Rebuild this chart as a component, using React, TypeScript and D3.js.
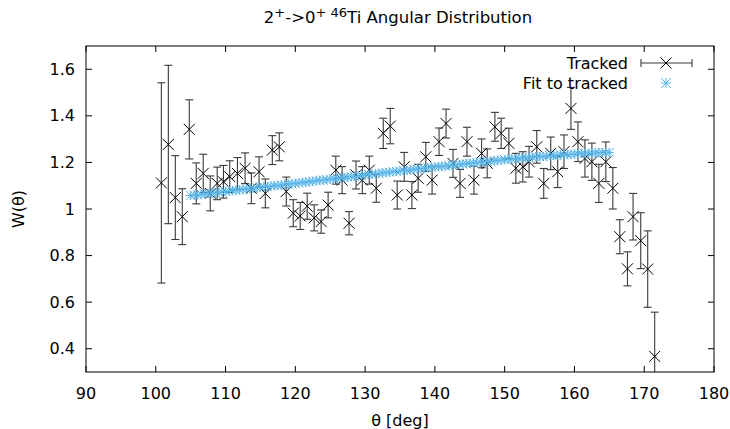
import React from 'react';
import * as d3 from 'd3';

// tracked data (angle in deg, W, error)
const trackedAngles = [
  100.8, 101.8, 102.8, 103.8, 104.8, 105.8, 106.8, 107.8, 108.8, 109.7,
  110.6, 111.7, 112.8, 113.7, 114.8, 115.7, 116.7, 117.7, 118.7, 119.7,
  120.7, 121.7, 122.7, 123.7, 124.7, 125.8, 126.7, 127.7, 128.7, 129.6,
  130.6, 131.6, 132.6, 133.6, 134.6, 135.6, 136.7, 137.6, 138.7, 139.6,
  140.6, 141.6, 142.6, 143.6, 144.6, 145.6, 146.7, 147.5, 148.6, 149.5,
  150.6, 151.6, 152.6, 153.5, 154.6, 155.6, 156.6, 157.6, 158.5, 159.5,
  160.5, 161.5, 162.5, 163.5, 164.5, 165.5, 166.5, 167.6, 168.4, 169.5,
  170.5, 171.5,
];
const trackedW = [
  1.112, 1.277, 1.049, 0.967, 1.342, 1.110, 1.153, 1.067, 1.110, 1.117,
  1.139, 1.153, 1.175, 1.089, 1.160, 1.067, 1.253, 1.267, 1.075, 0.982,
  0.970, 1.012, 0.962, 0.946, 1.017, 1.167, 1.124, 0.939, 1.146, 1.124,
  1.167, 1.089, 1.325, 1.356, 1.060, 1.181, 1.060, 1.132, 1.224, 1.124,
  1.289, 1.367, 1.196, 1.110, 1.289, 1.124, 1.239, 1.196, 1.353, 1.325,
  1.282, 1.175, 1.181, 1.203, 1.267, 1.110, 1.239, 1.160, 1.246, 1.432,
  1.289, 1.217, 1.203, 1.110, 1.203, 1.089, 0.881, 0.743, 0.967, 0.864,
  0.742, 0.367,
];
const trackedErr = [
  0.43, 0.34, 0.18, 0.12, 0.127, 0.088, 0.082, 0.075, 0.07, 0.07,
  0.068, 0.068, 0.066, 0.066, 0.064, 0.062, 0.062, 0.06, 0.062, 0.058,
  0.058, 0.056, 0.056, 0.05, 0.055, 0.06, 0.058, 0.05, 0.06, 0.058,
  0.06, 0.06, 0.065, 0.076, 0.06, 0.062, 0.058, 0.06, 0.062, 0.06,
  0.059, 0.062, 0.06, 0.06, 0.062, 0.06, 0.062, 0.062, 0.062, 0.065,
  0.065, 0.064, 0.065, 0.066, 0.07, 0.064, 0.07, 0.068, 0.072, 0.09,
  0.085, 0.08, 0.08, 0.082, 0.085, 0.089, 0.073, 0.073, 0.1, 0.12,
  0.164, 0.19,
];

// fit to tracked
const fitAngles = [
  105, 105.5, 106, 106.5, 107, 107.5, 108, 108.5, 109, 109.5,
  110, 110.5, 111, 111.5, 112, 112.5, 113, 113.5, 114, 114.5,
  115, 115.5, 116, 116.5, 117, 117.5, 118, 118.5, 119, 119.5,
  120, 120.5, 121, 121.5, 122, 122.5, 123, 123.5, 124, 124.5,
  125, 125.5, 126, 126.5, 127, 127.5, 128, 128.5, 129, 129.5,
  130, 130.5, 131, 131.5, 132, 132.5, 133, 133.5, 134, 134.5,
  135, 135.5, 136, 136.5, 137, 137.5, 138, 138.5, 139, 139.5,
  140, 140.5, 141, 141.5, 142, 142.5, 143, 143.5, 144, 144.5,
  145, 145.5, 146, 146.5, 147, 147.5, 148, 148.5, 149, 149.5,
  150, 150.5, 151, 151.5, 152, 152.5, 153, 153.5, 154, 154.5,
  155, 155.5, 156, 156.5, 157, 157.5, 158, 158.5, 159, 159.5,
  160, 160.5, 161, 161.5, 162, 162.5, 163, 163.5, 164, 164.5,
  165,
];
const fitW = [
  1.058, 1.060, 1.061, 1.063, 1.065, 1.067, 1.068, 1.070, 1.072, 1.073,
  1.075, 1.077, 1.079, 1.080, 1.082, 1.084, 1.086, 1.088, 1.089, 1.091,
  1.093, 1.095, 1.096, 1.098, 1.100, 1.101, 1.103, 1.105, 1.107, 1.108,
  1.110, 1.112, 1.114, 1.115, 1.117, 1.119, 1.121, 1.123, 1.124, 1.126,
  1.128, 1.130, 1.132, 1.133, 1.135, 1.137, 1.139, 1.140, 1.142, 1.144,
  1.146, 1.148, 1.149, 1.151, 1.153, 1.155, 1.156, 1.158, 1.160, 1.161,
  1.163, 1.165, 1.166, 1.168, 1.170, 1.172, 1.173, 1.175, 1.177, 1.178,
  1.180, 1.182, 1.183, 1.185, 1.186, 1.188, 1.190, 1.191, 1.193, 1.194,
  1.196, 1.198, 1.199, 1.201, 1.202, 1.204, 1.205, 1.207, 1.209, 1.210,
  1.212, 1.213, 1.215, 1.216, 1.217, 1.219, 1.220, 1.221, 1.223, 1.224,
  1.225, 1.226, 1.227, 1.229, 1.230, 1.231, 1.232, 1.233, 1.234, 1.235,
  1.236, 1.237, 1.238, 1.238, 1.239, 1.240, 1.241, 1.241, 1.242, 1.242,
  1.243,
];

const xTicks = [90, 100, 110, 120, 130, 140, 150, 160, 170, 180];
const yTicks = [0.4, 0.6, 0.8, 1, 1.2, 1.4, 1.6];

const BLUE = '#56b4e9';
const FONT = '"DejaVu Sans", sans-serif';

const Cross = ({ cx, cy, r, stroke }) => (
  <path d={`M${cx - r},${cy - r}L${cx + r},${cy + r}M${cx - r},${cy + r}L${cx + r},${cy - r}`} stroke={stroke} strokeWidth={1} fill="none" />
);

const Star = ({ cx, cy, r, stroke }) => (
  <path
    d={`M${cx - r},${cy - r}L${cx + r},${cy + r}M${cx - r},${cy + r}L${cx + r},${cy - r}M${cx - r},${cy}L${cx + r},${cy}M${cx},${cy - r}L${cx},${cy + r}`}
    stroke={stroke}
    strokeWidth={1}
    fill="none"
  />
);

const App = () => {
  const width = 730;
  const height = 429;
  const left = 86, right = 714, top = 46, bottom = 372;

  const x = d3.scaleLinear().domain([90, 180]).range([left, right]);
  const y = d3.scaleLinear().domain([0.3, 1.7]).range([bottom, top]);

  const tick = 6;
  const cap = 4;
  const fs = 16;

  return (
    <svg width={width} height={height} style={{ position: 'absolute', left: 0, top: 0, background: '#fff' }} fontFamily={FONT}>
      <defs>
        <clipPath id="plot">
          <rect x={left} y={top} width={right - left} height={bottom - top} />
        </clipPath>
      </defs>
      <rect width={width} height={height} fill="#fff" />

      {/* title */}
      <text x={398} y={23} textAnchor="middle" fontSize={16.5} fill="#000">
        2<tspan dy={-6.5} fontSize={13}>+</tspan>
        <tspan dy={6.5}>-&gt;0</tspan>
        <tspan dy={-6.5} fontSize={13}>+</tspan>
        <tspan dy={0} fontSize={13}> 46</tspan>
        <tspan dy={6.5}>Ti Angular Distribution</tspan>
      </text>

      {/* ticks */}
      {xTicks.map((t) => (
        <g key={'x' + t}>
          <line x1={x(t)} x2={x(t)} y1={bottom} y2={bottom - tick} stroke="#000" />
          <line x1={x(t)} x2={x(t)} y1={top} y2={top + tick} stroke="#000" />
          <text x={x(t)} y={393} textAnchor="middle" dominantBaseline="central" fontSize={fs} fill="#000">{t}</text>
        </g>
      ))}
      {yTicks.map((t) => (
        <g key={'y' + t}>
          <line x1={left} x2={left + tick} y1={y(t)} y2={y(t)} stroke="#000" />
          <line x1={right} x2={right - tick} y1={y(t)} y2={y(t)} stroke="#000" />
          <text x={75} y={y(t)} textAnchor="end" dominantBaseline="central" fontSize={fs} fill="#000">{t}</text>
        </g>
      ))}

      {/* axis labels */}
      <text x={(left + right) / 2} y={420} textAnchor="middle" dominantBaseline="central" fontSize={fs} fill="#000">θ [deg]</text>
      <text transform={`translate(18,${(top + bottom) / 2}) rotate(-90)`} textAnchor="middle" dominantBaseline="central" fontSize={fs} fill="#000">W(θ)</text>

      <g clipPath="url(#plot)">
        {/* tracked error bars */}
        {trackedAngles.map((a, i) => {
          const cx = x(a);
          const y1 = y(trackedW[i] + trackedErr[i]);
          const y2 = y(trackedW[i] - trackedErr[i]);
          return (
            <g key={'e' + i} stroke="#3a3a3a" strokeWidth={1.1}>
              <line x1={cx} x2={cx} y1={y1} y2={y2} />
              <line x1={cx - cap} x2={cx + cap} y1={y1} y2={y1} />
              <line x1={cx - cap} x2={cx + cap} y1={y2} y2={y2} />
            </g>
          );
        })}
        {trackedAngles.map((a, i) => (
          <Cross key={'c' + i} cx={x(a)} cy={y(trackedW[i])} r={5.5} stroke="#000" />
        ))}
        {/* fit */}
        {fitAngles.map((a, i) => (
          <Star key={'f' + i} cx={x(a)} cy={y(fitW[i])} r={4.5} stroke={BLUE} />
        ))}
      </g>

      {/* legend */}
      <text x={628} y={63} textAnchor="end" dominantBaseline="central" fontSize={fs} fill="#000">Tracked</text>
      <g stroke="#3a3a3a" strokeWidth={1.1}>
        <line x1={641} x2={692} y1={63} y2={63} />
        <line x1={641} x2={641} y1={63 - cap} y2={63 + cap} />
        <line x1={692} x2={692} y1={63 - cap} y2={63 + cap} />
      </g>
      <Cross cx={666} cy={63} r={5.5} stroke="#000" />
      <text x={628} y={83} textAnchor="end" dominantBaseline="central" fontSize={fs} fill="#000">Fit to tracked</text>
      <Star cx={666} cy={83} r={5} stroke={BLUE} />

      {/* frame */}
      <rect x={left} y={top} width={right - left} height={bottom - top} fill="none" stroke="#000" strokeWidth={1} />
    </svg>
  );
};

export default App;
